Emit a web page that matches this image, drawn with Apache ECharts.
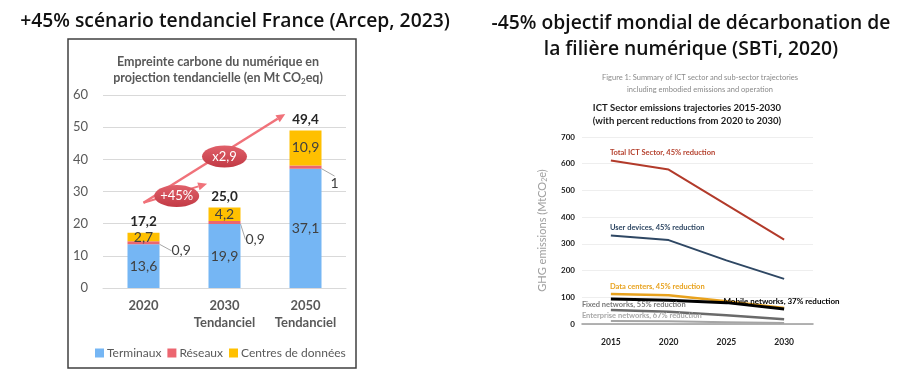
<!DOCTYPE html>
<html><head><meta charset="utf-8">
<script src="https://cdn.jsdelivr.net/npm/echarts@6/dist/echarts.min.js"></script>
<style>html,body{margin:0;padding:0;background:#fff}#c{width:903px;height:371px}</style>
</head><body><div id="c"></div>
<script>
// ---- Left chart (Arcep 2023) ----
const arcepCategories = ['2020', '2030\nTendanciel', '2050\nTendanciel'];
const terminaux = [13.6, 19.9, 37.1];
const reseaux = [0.9, 0.9, 1];
const centres = [2.7, 4.2, 10.9];
const totals = [17.2, 25.0, 49.4];
const arcepAxis = { min: 0, max: 60, interval: 10 };
// ---- Right chart (SBTi 2020) ----
const sbtiYears = ['2015', '2020', '2025', '2030'];
const totalICT = [612, 578, 447, 316];
const userDevices = [331, 314, 238, 169];
const dataCenters = [112, 108, 85, 60];
const mobileNetworks = [94, 89, 80, 56];
const fixedNetworks = [52, 46, 33, 18];
const enterpriseNetworks = [11, 10, 7, 4];
const sbtiAxis = { min: 0, max: 700, interval: 100 };

const fr = v => String(v).replace('.', ',');
const chart = echarts.init(document.getElementById('c'), null, { renderer: 'canvas' });

const LATO = 'Lato, "Liberation Sans", sans-serif';
const TITLEF = '"Open Sans", "Noto Sans", sans-serif';

function lineLabel(text, color, offset) {
  return { show: true, formatter: text, position: [0, 0], align: 'left', verticalAlign: 'middle',
    offset: offset, color: color, fontFamily: LATO, fontSize: 7.5, fontWeight: 'bold' };
}
function withLabel(arr, idx, lab) {
  return arr.map((v, i) => i === idx ? { value: v, label: lab } : v);
}
function lineSeries(name, data, color, width, lab, labIdx) {
  return {
    name: name, type: 'line', xAxisIndex: 1, yAxisIndex: 1,
    data: withLabel(data, labIdx, lab), symbol: 'circle', symbolSize: 0, showSymbol: true,
    lineStyle: { color: color, width: width }, itemStyle: { color: color },
    label: { show: false }, silent: true, animation: false
  };
}

const option = {
  animation: false,
  title: [
    { text: '+45% scénario tendanciel France (Arcep, 2023)', left: 230, top: 7, textAlign: 'center',
      textStyle: { fontFamily: TITLEF, fontSize: 19.3, fontWeight: 600, color: '#111' } },
    { text: '-45% objectif mondial de décarbonation de\nla filière numérique (SBTi, 2020)', left: 686, top: 6, textAlign: 'center',
      textStyle: { fontFamily: TITLEF, fontSize: 19.3, fontWeight: 600, color: '#111', lineHeight: 26 } },
    { text: '{t|Empreinte carbone du numérique en}\n{t|projection tendancielle (en Mt CO}{s|2}{t|eq)}', left: 213, top: 49, textAlign: 'center',
      textStyle: { rich: {
        t: { fontFamily: LATO, fontSize: 12.5, fontWeight: 'bold', color: '#595959', lineHeight: 16 },
        s: { fontFamily: LATO, fontSize: 8, fontWeight: 'bold', color: '#595959', lineHeight: 16, padding: [7, 0, 0, 0] } } } },
    { text: 'Figure 1: Summary of ICT sector and sub-sector trajectories\nincluding embodied emissions and operation', left: 695, top: 67, textAlign: 'center',
      textStyle: { fontFamily: LATO, fontSize: 7.5, fontWeight: 'normal', color: '#8a8a8a', lineHeight: 12 } },
    { text: 'ICT Sector emissions trajectories 2015-2030\n(with percent reductions from 2020 to 2030)', left: 682, top: 96, textAlign: 'center',
      textStyle: { fontFamily: LATO, fontSize: 9.5, fontWeight: 'bold', color: '#1a1a1a', lineHeight: 13 } }
  ],
  legend: {
    data: ['Terminaux', 'Réseaux', 'Centres de données'], left: 90, top: 342,
    icon: 'rect', itemWidth: 9, itemHeight: 9, itemGap: 6,
    textStyle: { fontFamily: LATO, fontSize: 12, color: '#595959', padding: [0, 0, 0, -2] }, selectedMode: false
  },
  grid: [
    { left: 103, right: 557, top: 95, bottom: 83 },
    { left: 582, right: 90, top: 137, bottom: 47 }
  ],
  xAxis: [
    { type: 'category', gridIndex: 0, data: arcepCategories,
      axisLine: { lineStyle: { color: '#D9D9D9' } }, axisTick: { show: false },
      axisLabel: { fontFamily: LATO, fontSize: 13, fontWeight: 'bold', color: '#595959', lineHeight: 17, margin: 9 } },
    { type: 'category', gridIndex: 1, data: sbtiYears,
      axisLine: { lineStyle: { color: '#9a9a9a', width: 1.5 } }, axisTick: { show: false },
      axisLabel: { fontFamily: LATO, fontSize: 8.5, fontWeight: 'bold', color: '#222', margin: 14 } }
  ],
  yAxis: [
    { type: 'value', gridIndex: 0, min: arcepAxis.min, max: arcepAxis.max, interval: arcepAxis.interval,
      axisLine: { show: false }, axisTick: { show: false },
      splitLine: { lineStyle: { color: '#D9D9D9' } },
      axisLabel: { fontFamily: LATO, fontSize: 13, color: '#595959', margin: 15 } },
    { type: 'value', gridIndex: 1, min: sbtiAxis.min, max: sbtiAxis.max, interval: sbtiAxis.interval,
      axisLine: { show: false }, axisTick: { show: false },
      splitLine: { lineStyle: { color: '#eeeeee' } },
      axisLabel: { fontFamily: LATO, fontSize: 8, fontWeight: 'bold', color: '#222', margin: 7 },
      name: '{n|GHG emissions (MtCO}{s|2}{n|e)}', nameLocation: 'middle', nameGap: 34, nameRotate: 90,
      nameTextStyle: { fontFamily: LATO, fontSize: 11, color: '#a0a0a0',
        rich: { n: { fontFamily: LATO, fontSize: 11, color: '#a0a0a0' },
                s: { fontFamily: LATO, fontSize: 7, color: '#a0a0a0', padding: [5, 0, 0, 0] } } } }
  ],
  series: [
    { name: 'Terminaux', type: 'bar', stack: 'a', xAxisIndex: 0, yAxisIndex: 0, barWidth: 32, data: terminaux,
      itemStyle: { color: '#75B6F4' },
      label: { show: true, position: 'inside', formatter: p => fr(p.value), fontFamily: LATO, fontSize: 14, color: '#404040' } },
    { name: 'Réseaux', type: 'bar', stack: 'a', xAxisIndex: 0, yAxisIndex: 0, barWidth: 32, data: reseaux,
      itemStyle: { color: '#EC6670' },
      label: { show: true, position: 'right', distance: 4, formatter: p => fr(p.value), fontFamily: LATO, fontSize: 14, color: '#404040' },
      labelLine: { show: true, lineStyle: { color: '#A6A6A6', width: 1 } },
      labelLayout: p => [ { dx: 8, dy: 8 }, { dx: 1, dy: 17 }, { dx: 5, dy: 16 } ][p.dataIndex] },
    { name: 'Centres de données', type: 'bar', stack: 'a', xAxisIndex: 0, yAxisIndex: 0, barWidth: 32, data: centres,
      itemStyle: { color: '#FFC000' },
      label: { show: true, position: 'inside', formatter: p => fr(p.value), fontFamily: LATO, fontSize: 14, color: '#404040' } },
    { name: 'Total', type: 'bar', stack: 'a', xAxisIndex: 0, yAxisIndex: 0, barWidth: 32, data: totals.map(() => 0),
      itemStyle: { color: 'transparent' }, silent: true,
      label: { show: true, position: 'top', distance: 4, formatter: p => totals[p.dataIndex].toFixed(1).replace('.', ','),
        fontFamily: LATO, fontSize: 13.5, fontWeight: 'bold', color: '#262626' } },

    lineSeries('Enterprise networks', enterpriseNetworks, '#a5a5a5', 2,
      lineLabel('Enterprise networks, 67% reduction', '#a8a8a8', [-29, -5]), 0),
    lineSeries('Fixed networks', fixedNetworks, '#6a6a6a', 2.5,
      lineLabel('Fixed networks, 55% reduction', '#7a7a7a', [-29, -6]), 0),
    lineSeries('Data centers', dataCenters, '#E8A21E', 2.5,
      lineLabel('Data centers, 45% reduction', '#E8A21E', [-1, -8]), 0),
    lineSeries('Mobile networks', mobileNetworks, '#000000', 3,
      Object.assign(lineLabel('Mobile networks, 37% reduction', '#000', [-3, -1]), { fontSize: 8 }), 2),
    lineSeries('User devices', userDevices, '#2E4763', 2,
      lineLabel('User devices, 45% reduction', '#2E4763', [-1, -8]), 0),
    lineSeries('Total ICT Sector', totalICT, '#B23A2A', 2,
      lineLabel('Total ICT Sector, 45% reduction', '#B5412E', [-1, -8]), 0)
  ]
};
chart.setOption(option);

// ---- annotations (frame, arrows, ellipses) positioned from data coordinates ----
function px(idx, val) {
  const i0 = Math.floor(idx), f = idx - i0;
  const a = chart.convertToPixel({ gridIndex: 0 }, [i0, val]);
  if (f === 0) return a;
  const b = chart.convertToPixel({ gridIndex: 0 }, [i0 + 1, val]);
  return [a[0] + (b[0] - a[0]) * f, a[1]];
}
function arrow(p0, p1, w, color) {
  const ang = Math.atan2(p1[1] - p0[1], p1[0] - p0[0]);
  const L = 9, W = 4;
  const bx = p1[0] - L * Math.cos(ang), by = p1[1] - L * Math.sin(ang);
  const nx = -Math.sin(ang), ny = Math.cos(ang);
  return [
    { type: 'line', shape: { x1: p0[0], y1: p0[1], x2: bx, y2: by }, style: { stroke: color, lineWidth: w }, z: 50 },
    { type: 'polygon', shape: { points: [[p1[0], p1[1]], [bx + nx * W, by + ny * W], [bx - nx * W, by - ny * W]] },
      style: { fill: color }, z: 50 }
  ];
}
function bubble(c, txt) {
  return [
    { type: 'ellipse', shape: { cx: c[0], cy: c[1], rx: 22.5, ry: 11 },
      style: { fill: new echarts.graphic.LinearGradient(0, 0, 0, 1, [{ offset: 0, color: '#E0606A' }, { offset: 1, color: '#C23A45' }]) }, z: 60 },
    { type: 'text', x: c[0], y: c[1], style: { text: txt, fill: '#fff', fontFamily: LATO, fontSize: 13, align: 'center', verticalAlign: 'middle' }, z: 61 }
  ];
}
const start = px(0, 26.5);
const smallEnd = px(0.785, 32.4);
const bigEnd = px(1.75, 54.1);
const g = [
  { type: 'rect', shape: { x: 68, y: 39, width: 288, height: 329 }, style: { fill: 'none', stroke: '#404040', lineWidth: 1.5 }, z: 40 }
].concat(arrow(start, bigEnd, 2.5, '#F0727A'), arrow(start, smallEnd, 2, '#F0727A'),
  bubble(px(1.0, 40.9), 'x2,9'), bubble(px(0.41, 28.6), '+45%'));
chart.setOption({ graphic: g });
</script></body></html>
